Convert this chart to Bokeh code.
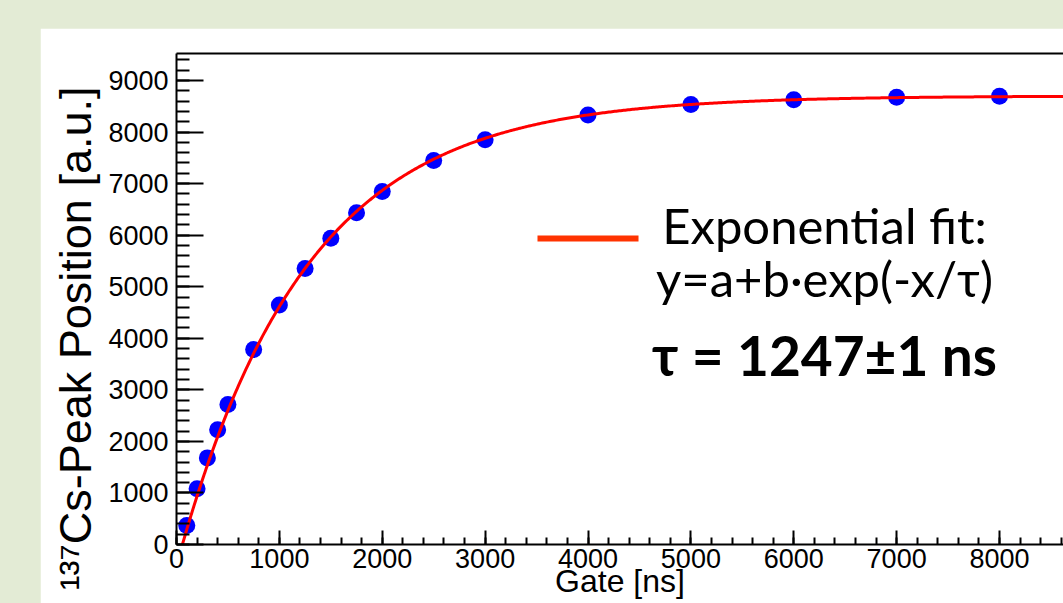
import numpy as np
from bokeh.plotting import figure
from bokeh.models import (Range1d, SingleIntervalTicker, FixedTicker, LinearAxis,
                          Label, Title, BasicTickFormatter)
from bokeh.embed import file_html
from bokeh.resources import INLINE

# ---- data ----
gate_ns = [100, 200, 300, 400, 500, 750, 1000, 1250, 1500, 1750, 2000,
           2500, 3000, 4000, 5000, 6000, 7000, 8000]
peak_pos = [370, 1080, 1680, 2225, 2715, 3780, 4645, 5355, 5940, 6435, 6846,
            7448, 7850, 8330, 8535, 8625, 8675, 8695]

# exponential fit y = a + b*exp(-x/tau)
fit_a = 8700.0
fit_b = -9110.0
fit_tau = 1247.0

x_title = "Gate [ns]"
y_title = "\u00b9\u00b3\u2077Cs-Peak Position [a.u.]"
legend_lines = ["Exponential fit:", "y=a+b\u00b7exp(-x/\u03c4)"]
legend_result = "\u03c4 = 1247\u00b11 ns"

X_MAX = 8622
Y_MAX = 9523
BG_GREEN = "#e3ebd5"

p = figure(width=1023, height=575, output_backend="svg", toolbar_location=None,
           x_range=Range1d(0, X_MAX), y_range=Range1d(0, Y_MAX),
           min_border_left=136, min_border_right=0, min_border_top=25,
           min_border_bottom=59, x_axis_type=None, y_axis_type=None)
p.margin = (28, 0, 0, 40)
p.background_fill_color = "white"
p.border_fill_color = "white"
p.outline_line_color = None
p.xgrid.visible = False
p.ygrid.visible = False

fmt = BasicTickFormatter(use_scientific=False)

xaxis = LinearAxis(ticker=SingleIntervalTicker(interval=1000, num_minor_ticks=5),
                   formatter=fmt)
xaxis.axis_line_width = 2
xaxis.axis_line_color = "black"
xaxis.major_tick_in = 14
xaxis.major_tick_out = 0
xaxis.minor_tick_in = 7
xaxis.minor_tick_out = 0
xaxis.major_tick_line_width = 2
xaxis.minor_tick_line_width = 2
xaxis.major_label_text_font = "Liberation Sans"
xaxis.major_label_text_font_size = "27px"
xaxis.major_label_text_color = "black"
xaxis.major_label_standoff = 4
xaxis.axis_label = x_title
xaxis.axis_label_text_font = "Liberation Sans"
xaxis.axis_label_text_font_size = "32px"
xaxis.axis_label_text_font_style = "normal"
xaxis.axis_label_text_color = "black"
xaxis.axis_label_standoff = -8
p.add_layout(xaxis, "below")

yaxis = LinearAxis(ticker=SingleIntervalTicker(interval=1000, num_minor_ticks=5),
                   formatter=fmt)
yaxis.axis_line_width = 2
yaxis.axis_line_color = "black"
yaxis.major_tick_in = 27
yaxis.major_tick_out = 0
yaxis.minor_tick_in = 13
yaxis.minor_tick_out = 0
yaxis.major_tick_line_width = 2
yaxis.minor_tick_line_width = 2
yaxis.major_label_text_font = "Liberation Sans"
yaxis.major_label_text_font_size = "27px"
yaxis.major_label_text_color = "black"
yaxis.major_label_standoff = 8
p.add_layout(yaxis, "left")

ytitle = Title(text=y_title, align="left", offset=-46, standoff=9,
               text_font="Liberation Sans", text_font_size="45px",
               text_font_style="normal", text_color="black")
p.add_layout(ytitle, "left")

top = LinearAxis(ticker=FixedTicker(ticks=[]))
top.axis_line_width = 2
top.axis_line_color = "black"
top.major_label_text_font_size = "0px"
top.major_tick_in = 0
top.major_tick_out = 0
top.minor_tick_in = 0
top.minor_tick_out = 0
p.add_layout(top, "above")

# data points
p.scatter(gate_ns, peak_pos, size=17, color="#0000ff", line_color=None)

# fit curve
xf = np.linspace(0, X_MAX, 600)
yf = fit_a + fit_b * np.exp(-xf / fit_tau)
p.line(xf, yf, line_color="#ff0000", line_width=3)

# legend-like annotation
p.line([3509, 4491], [5935, 5935], line_color="#ff3300", line_width=6)
txt_x = 6299
for t, yy in zip(legend_lines, [6190, 5160]):
    p.add_layout(Label(x=txt_x, y=yy, text=t, text_align="center",
                       text_baseline="alphabetic", text_font="Lato",
                       text_font_size="49px", text_color="black"))
p.add_layout(Label(x=txt_x, y=3680, text=legend_result, text_align="center",
                   text_baseline="alphabetic", text_font="Lato",
                   text_font_style="bold", text_font_size="55px",
                   text_color="black"))

html = file_html(p, INLINE)
head_end = html.find("</head>")
body_pos = html.find("<body", head_end)
if body_pos != -1:
    html = (html[:body_pos] + '<body style="background-color:%s;"' % BG_GREEN
            + html[body_pos + len("<body"):])
open("out.html", "w").write(html)
